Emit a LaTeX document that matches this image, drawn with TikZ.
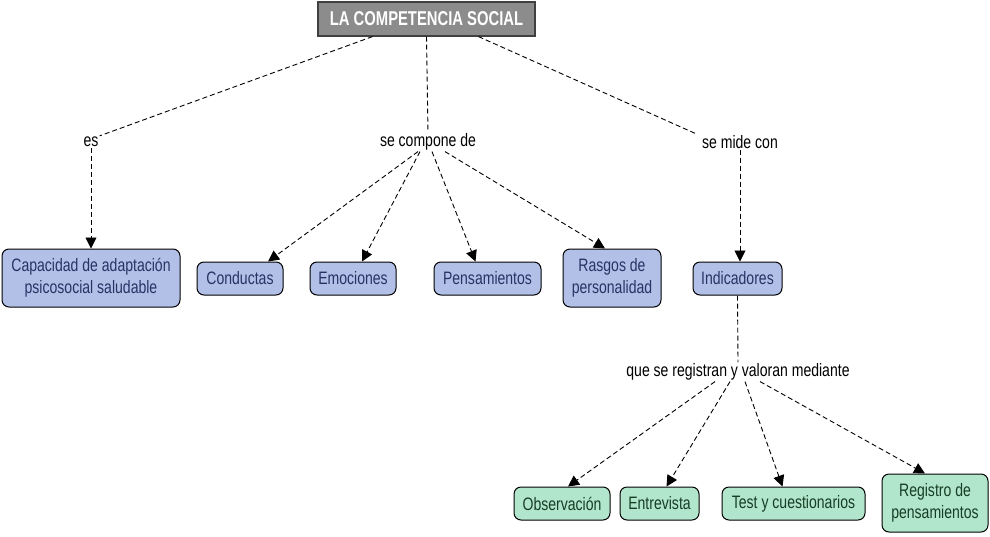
\documentclass[tikz,border=0pt]{standalone}
\usepackage{fontspec}
\setmainfont{Liberation Sans}[FakeStretch=0.78]
\newfontfamily\titlefont{Liberation Sans Bold}[FakeStretch=0.74]
\usetikzlibrary{arrows.meta}
\definecolor{bluefill}{RGB}{178,192,232}
\definecolor{bluetext}{RGB}{38,52,100}
\definecolor{greenfill}{RGB}{178,230,204}
\definecolor{greentext}{RGB}{22,62,36}
\definecolor{titlefill}{RGB}{140,140,140}
\begin{document}
\begin{tikzpicture}[x=1pt,y=-1pt,
  box/.style={draw=black,line width=1pt,rounded corners=7pt,font=\fontsize{18}{22}\selectfont,align=center,inner sep=0pt},
  bluebox/.style={box,fill=bluefill,text=bluetext},
  greenbox/.style={box,fill=greenfill,text=greentext},
  lbl/.style={font=\fontsize{18}{21}\selectfont,text=black,inner sep=1pt},
  conn/.style={dashed,dash pattern=on 5pt off 3pt,line width=0.9pt},
  arr/.style={conn,-{Triangle[length=11pt,width=11pt]}}
]
\useasboundingbox (0,0) rectangle (990,536);
\node[draw=black!75,line width=1.2pt,fill=titlefill,text=white,font=\fontsize{20}{22}\titlefont,minimum width=217pt,minimum height=34pt,inner sep=0pt] (title) at (426.5,19) {LA COMPETENCIA SOCIAL};

\node[lbl] (es) at (91,142) {es};
\node[lbl] (comp) at (428,142) {se compone de};
\node[lbl] (mide) at (740,142) {se mide con};
\node[lbl] (reg) at (738,372) {que se registran y valoran mediante};

\node[bluebox,minimum width=178pt,minimum height=58pt] (cap) at (91,278) {Capacidad de adaptación\\psicosocial saludable};
\node[bluebox,minimum width=86pt,minimum height=33pt] (cond) at (240,278.5) {Conductas};
\node[bluebox,minimum width=86pt,minimum height=33pt] (emo) at (353,278.5) {Emociones};
\node[bluebox,minimum width=107pt,minimum height=33pt] (pens) at (487.5,278.5) {Pensamientos};
\node[bluebox,minimum width=98pt,minimum height=58pt] (ras) at (612,278) {Rasgos de\\personalidad};
\node[bluebox,minimum width=89pt,minimum height=33pt] (ind) at (737.5,278.5) {Indicadores};

\node[greenbox,minimum width=96pt,minimum height=33pt] (obs) at (562,503.5) {Observación};
\node[greenbox,minimum width=79pt,minimum height=33pt] (ent) at (659.5,503.5) {Entrevista};
\node[greenbox,minimum width=143pt,minimum height=33pt] (test) at (793.5,503.5) {Test y cuestionarios};
\node[greenbox,minimum width=106pt,minimum height=58pt] (regp) at (935,503) {Registro de\\pensamientos};

% title to labels
\draw[conn] ([xshift=-54pt]title.south) -- (es.north east);
\draw[conn] (title.south) -- (comp.north);
\draw[conn] ([xshift=52pt]title.south) -- ([xshift=-4pt]mide.north west);

% labels to nodes
\draw[arr] (es.south) -- (cap.north);
\draw[arr] ([xshift=-10pt]comp.south) -- ([xshift=28pt]cond.north);
\draw[arr] ([xshift=-8pt]comp.south) -- ([xshift=9pt]emo.north);
\draw[arr] ([xshift=4pt]comp.south) -- ([xshift=-12pt]pens.north);
\draw[arr] ([xshift=17pt]comp.south) -- ([xshift=-7pt]ras.north);
\draw[arr] (mide.south) -- ([xshift=2.5pt]ind.north);

\draw[conn] (ind.south) -- (reg.north);
\draw[arr] ([xshift=-23pt]reg.south) -- ([xshift=6pt]obs.north);
\draw[arr] ([xshift=-8pt]reg.south) -- ([xshift=7pt]ent.north);
\draw[arr] ([xshift=7pt]reg.south) -- ([xshift=-11pt]test.north);
\draw[arr] ([xshift=22pt]reg.south) -- ([xshift=-10pt]regp.north);
\end{tikzpicture}
\end{document}
